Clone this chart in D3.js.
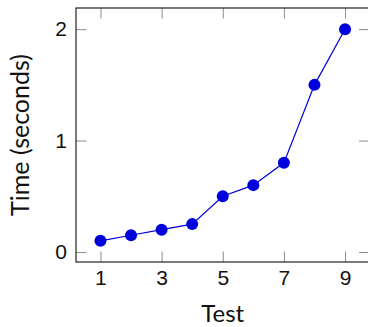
<!DOCTYPE html>
<html>
<head>
<meta charset="utf-8">
<script src="https://cdn.jsdelivr.net/npm/d3@7"></script>
<style>
  html, body { margin: 0; padding: 0; background: #fff; }
  svg { display: block; font-family: Lato, 'Open Sans', sans-serif; }
</style>
</head>
<body>
<svg id="chart" width="368" height="327"></svg>
<script>
const tests = [1, 2, 3, 4, 5, 6, 7, 8, 9]
const times = [0.1, 0.15, 0.2, 0.25, 0.5, 0.6, 0.8, 1.5, 2.0]
const xTicks = [1, 3, 5, 7, 9]
const yTicks = [0, 1, 2]

const frame = { left: 76, right: 369.5, top: 8, bottom: 262 }
const TICK = 10.5
const BLUE = '#0000dc'

const svg = d3.select('#chart')

const x = d3.scaleLinear().domain([0.2, 9.8]).range([frame.left, frame.right])
const y = d3.scaleLinear().domain([-0.09, 2.19]).range([frame.bottom, frame.top])

const styleAxis = g => {
  g.select('.domain').remove()
  g.selectAll('.tick line').attr('stroke', '#8c8c8c').attr('stroke-width', 1)
  g.selectAll('.tick text').attr('fill', '#111').attr('font-size', 21)
}

svg.append('g')
  .attr('transform', `translate(0,${frame.bottom})`)
  .call(d3.axisBottom(x).tickValues(xTicks).tickSize(-TICK).tickPadding(8).tickFormat(d3.format('d')))
  .call(styleAxis)

svg.append('g')
  .attr('transform', `translate(0,${frame.top})`)
  .call(d3.axisTop(x).tickValues(xTicks).tickSize(-TICK).tickFormat(''))
  .call(styleAxis)

svg.append('g')
  .attr('transform', `translate(${frame.left},0)`)
  .call(d3.axisLeft(y).tickValues(yTicks).tickSize(-TICK).tickPadding(9).tickFormat(d3.format('d')))
  .call(styleAxis)

svg.append('g')
  .attr('transform', `translate(${frame.right},0)`)
  .call(d3.axisRight(y).tickValues(yTicks).tickSize(-TICK).tickFormat(''))
  .call(styleAxis)

// frame
svg.append('rect')
  .attr('x', frame.left).attr('y', frame.top)
  .attr('width', frame.right - frame.left).attr('height', frame.bottom - frame.top)
  .attr('fill', 'none').attr('stroke', '#222').attr('stroke-width', 1.2)

const pts = tests.map((t, i) => [t, times[i]])

svg.append('path')
  .datum(pts)
  .attr('fill', 'none')
  .attr('stroke', BLUE)
  .attr('stroke-width', 1.2)
  .attr('d', d3.line().x(d => x(d[0])).y(d => y(d[1])))

svg.append('g').selectAll('circle')
  .data(pts)
  .join('circle')
  .attr('cx', d => x(d[0]))
  .attr('cy', d => y(d[1]))
  .attr('r', 6)
  .attr('fill', BLUE)

// axis labels
svg.append('text')
  .attr('x', (frame.left + frame.right) / 2)
  .attr('y', 322)
  .attr('text-anchor', 'middle')
  .attr('font-size', 24)
  .attr('fill', '#111')
  .text('Test')

svg.append('text')
  .attr('transform', `translate(29,${(frame.top + frame.bottom) / 2}) rotate(-90)`)
  .attr('text-anchor', 'middle')
  .attr('font-size', 25)
  .attr('fill', '#111')
  .text('Time (seconds)')
</script>
</body>
</html>
